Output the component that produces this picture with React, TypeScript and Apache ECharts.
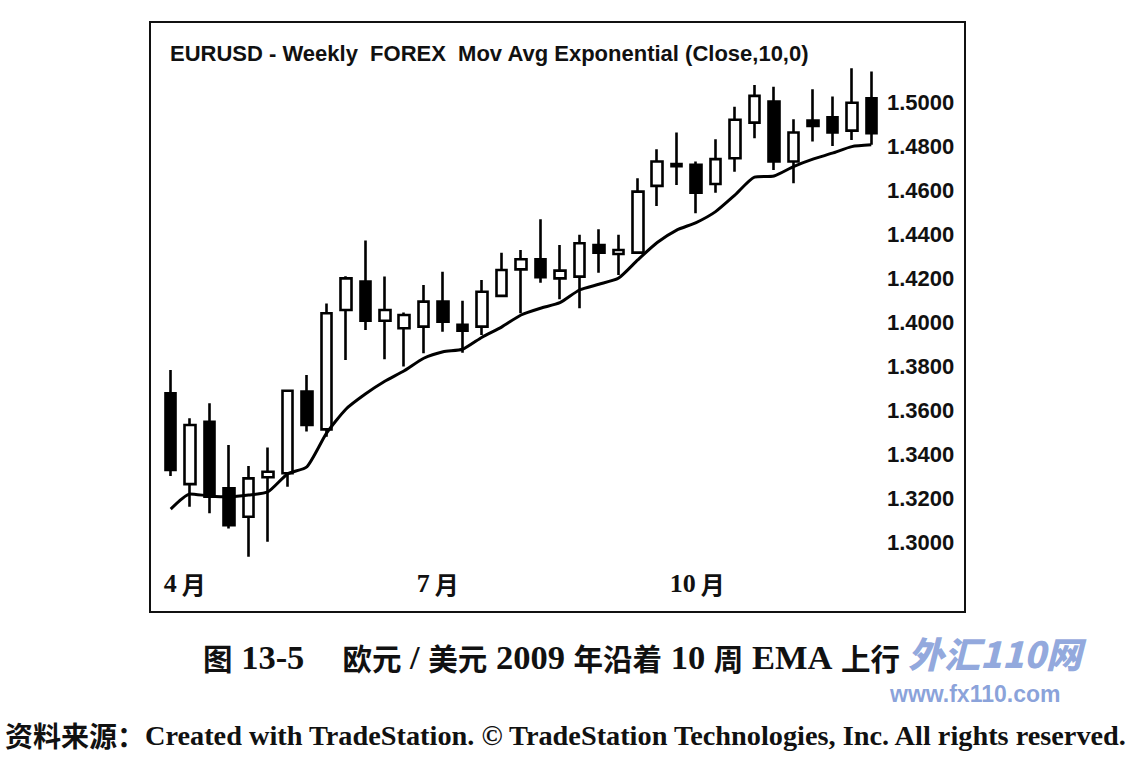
import React, { useEffect, useRef } from "react";
import * as echarts from "echarts";

// Weekly bars, EUR/USD 2009
const weeks = [
  "2009-03-30", "2009-04-06", "2009-04-13", "2009-04-20", "2009-04-27", "2009-05-04",
  "2009-05-11", "2009-05-18", "2009-05-25", "2009-06-01", "2009-06-08", "2009-06-15",
  "2009-06-22", "2009-06-29", "2009-07-06", "2009-07-13", "2009-07-20", "2009-07-27",
  "2009-08-03", "2009-08-10", "2009-08-17", "2009-08-24", "2009-08-31", "2009-09-07",
  "2009-09-14", "2009-09-21", "2009-09-28", "2009-10-05", "2009-10-12", "2009-10-19",
  "2009-10-26", "2009-11-02", "2009-11-09", "2009-11-16", "2009-11-23", "2009-11-30",
  "2009-12-07",
];

const opens = [
  1.3677, 1.3264, 1.3548, 1.3245, 1.3115, 1.3295, 1.3313, 1.3685, 1.3513, 1.4057,
  1.4186, 1.4008, 1.3974, 1.3981, 1.4095, 1.3989, 1.3981, 1.4121, 1.4242, 1.4288,
  1.4201, 1.4209, 1.4353, 1.4312, 1.4318, 1.4622, 1.4722, 1.4718, 1.4631, 1.4748,
  1.4910, 1.5006, 1.4733, 1.4920, 1.4935, 1.4874, 1.5021,
];
const closes = [
  1.3328, 1.3533, 1.3206, 1.3077, 1.3290, 1.3320, 1.3689, 1.3533, 1.4042, 1.4201,
  1.4008, 1.4057, 1.4034, 1.4095, 1.4004, 1.3963, 1.4140, 1.4239, 1.4288, 1.4206,
  1.4236, 1.4361, 1.4318, 1.4330, 1.4596, 1.4733, 1.4712, 1.4591, 1.4744, 1.4923,
  1.5032, 1.4733, 1.4865, 1.4895, 1.4865, 1.5001, 1.4862,
];
const lows = [
  1.3301, 1.3161, 1.3131, 1.3062, 1.2933, 1.3001, 1.3252, 1.3503, 1.3480, 1.3829,
  1.3966, 1.3832, 1.3799, 1.3860, 1.3958, 1.3862, 1.3943, 1.4115, 1.4042, 1.4181,
  1.4106, 1.4065, 1.4227, 1.4216, 1.4312, 1.4531, 1.4626, 1.4497, 1.4591, 1.4687,
  1.4839, 1.4695, 1.4634, 1.4824, 1.4804, 1.4831, 1.4809,
];
const highs = [
  1.3784, 1.3564, 1.3632, 1.3442, 1.3346, 1.3431, 1.3695, 1.3761, 1.4087, 1.4210,
  1.4373, 1.4209, 1.4045, 1.4171, 1.4231, 1.4099, 1.4194, 1.4318, 1.4330, 1.4470,
  1.4353, 1.4399, 1.4425, 1.4399, 1.4657, 1.4789, 1.4865, 1.4733, 1.4835, 1.4983,
  1.5082, 1.5074, 1.4926, 1.5062, 1.5029, 1.5158, 1.5143,
];
// 10-week exponential moving average of the close
const ema10 = [
  1.3150, 1.3219, 1.3210, 1.3206, 1.3214, 1.3229, 1.3310, 1.3343, 1.3495, 1.3605,
  1.3674, 1.3732, 1.3780, 1.3837, 1.3867, 1.3878, 1.3933, 1.3979, 1.4034, 1.4065,
  1.4090, 1.4148, 1.4174, 1.4201, 1.4285, 1.4364, 1.4421, 1.4455, 1.4505, 1.4581,
  1.4662, 1.4667, 1.4710, 1.4744, 1.4771, 1.4801, 1.4809,
];

const xTickIndex = [0, 13, 26];
const xTickLabels = ["4月", "7月", "10月"];
const yMin = 1.29;
const yMax = 1.52;
const yStep = 0.01;
const yLabelMin = 1.3;
const yLabelMax = 1.5;

const titleText = "EURUSD - Weekly  FOREX  Mov Avg Exponential (Close,10,0)";
const captionParts: [string, string][] = [
  ["c", "图"], ["l", " 13-5 "], ["c", "　欧元"], ["l", " / "], ["c", "美元"],
  ["l", " 2009 "], ["c", "年沿着"], ["l", " 10 "], ["c", "周"], ["l", " EMA "], ["c", "上行"],
];
const sourceParts: [string, string][] = [
  ["c", "资料来源："],
  ["l", "Created with TradeStation. © TradeStation Technologies, Inc. All rights reserved."],
];
const watermarkText = "外汇110网";
const watermarkUrl = "www.fx110.com";

const serif = "'Liberation Serif', 'Times New Roman', serif";
const cjk = "'Noto Sans CJK SC', sans-serif";
const sans = "'Liberation Sans', Arial, sans-serif";

const toRich = (parts: [string, string][]) =>
  parts.map(([k, t]) => `{${k}|${t}}`).join("");

export default function App() {
  const ref = useRef<HTMLDivElement>(null);

  useEffect(() => {
    if (!ref.current) return;
    const chart = echarts.init(ref.current, undefined, { renderer: "svg" });
    const candles = opens.map((o, i) => [o, closes[i], lows[i], highs[i]]);
    chart.setOption({
      animation: false,
      backgroundColor: "#ffffff",
      title: [
        {
          text: titleText,
          left: 170,
          top: 42,
          padding: 0,
          textStyle: { fontFamily: sans, fontWeight: "bold", fontSize: 22, color: "#111" },
        },
        {
          text: toRich(captionParts),
          left: 203,
          top: 639,
          padding: 0,
          textStyle: {
            rich: {
              c: { fontFamily: cjk, fontWeight: "bold", fontSize: 29.5, color: "#111" },
              l: { fontFamily: serif, fontWeight: "bold", fontSize: 34.5, color: "#111" },
            },
          },
        },
        {
          text: toRich(sourceParts),
          left: 5,
          top: 721,
          padding: 0,
          textStyle: {
            rich: {
              c: { fontFamily: cjk, fontWeight: "bold", fontSize: 28, color: "#111" },
              l: { fontFamily: serif, fontWeight: "bold", fontSize: 28.3, color: "#111" },
            },
          },
        },
        {
          text: watermarkText,
          left: 908,
          top: 634,
          padding: 0,
          textStyle: {
            fontFamily: cjk,
            fontStyle: "italic",
            fontWeight: 900,
            fontSize: 36,
            color: "rgba(118,146,212,0.8)",
          },
        },
        {
          text: watermarkUrl,
          left: 890,
          top: 682,
          padding: 0,
          textStyle: { fontFamily: sans, fontSize: 23, color: "rgba(118,146,212,0.85)" },
        },
      ],
      graphic: [
        {
          type: "rect",
          shape: { x: 150, y: 22, width: 815, height: 590 },
          style: { fill: "none", stroke: "#111", lineWidth: 2 },
          silent: true,
        },
      ],
      grid: { left: 161, right: 253, top: 59, bottom: 196 },
      xAxis: {
        type: "category",
        data: weeks,
        boundaryGap: true,
        axisLine: { show: false },
        axisTick: { show: false },
        splitLine: { show: false },
        axisLabel: {
          interval: (index: number) => xTickIndex.includes(index),
          formatter: (_v: string, index: number) => {
            const k = xTickIndex.indexOf(index);
            if (k < 0) return "";
            const s = xTickLabels[k];
            return `{n|${s.slice(0, -1)}}{m|${s.slice(-1)}}`;
          },
          align: "left",
          margin: 6,
          padding: [0, 0, 0, -7],
          rich: {
            n: { fontFamily: serif, fontWeight: "bold", fontSize: 26, color: "#111" },
            m: { fontFamily: cjk, fontWeight: "bold", fontSize: 24, color: "#111", padding: [0, 0, 0, 5] },
          },
        },
      },
      yAxis: {
        type: "value",
        position: "right",
        min: yMin,
        max: yMax,
        interval: yStep,
        scale: true,
        axisLine: { show: false },
        axisTick: { show: false },
        splitLine: { show: false },
        axisLabel: {
          margin: 6,
          fontFamily: sans,
          fontWeight: "bold",
          fontSize: 22,
          color: "#111",
          formatter: (v: number) => {
            const c = Math.round(v * 100);
            if (c % 2 !== 0) return "";
            if (v < yLabelMin - 1e-6 || v > yLabelMax + 1e-6) return "";
            return v.toFixed(4);
          },
        },
      },
      series: [
        {
          type: "candlestick",
          data: candles,
          barWidth: 11,
          itemStyle: {
            color: "#ffffff",
            color0: "#000000",
            borderColor: "#000000",
            borderColor0: "#000000",
            borderWidth: 2.6,
          },
        },
        {
          type: "line",
          data: ema10,
          symbol: "none",
          smooth: 0.2,
          lineStyle: { color: "#000", width: 3 },
          z: 3,
        },
      ],
    });
    return () => chart.dispose();
  }, []);

  return (
    <div
      ref={ref}
      style={{ position: "fixed", left: 0, top: 0, width: 1134, height: 760, background: "#fff" }}
    />
  );
}
